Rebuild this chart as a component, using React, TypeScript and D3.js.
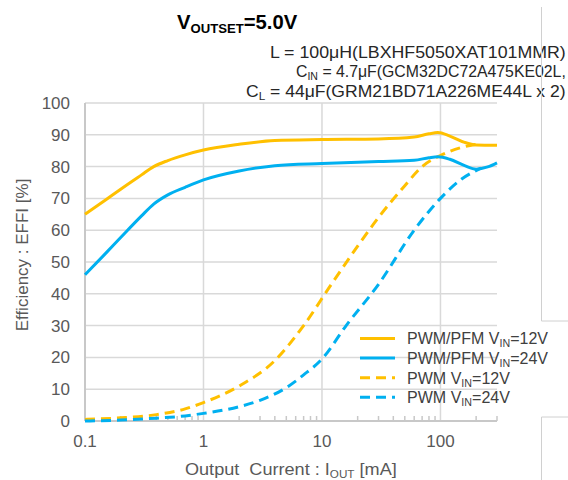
import React, { useEffect, useRef } from 'react';
import * as d3 from 'd3';

// PWM/PFM, VIN = 12V
const pfm12Current = [0.1, 0.15, 0.2, 0.3, 0.38, 0.5, 0.7, 1, 2, 4, 10, 30, 60, 80, 95, 120, 160, 200, 300];
const pfm12Eff = [65, 69.6, 72.9, 77.4, 80, 81.9, 83.7, 85.2, 87, 88.2, 88.5, 88.7, 89.3, 90.3, 90.7, 89.6, 87.6, 86.8, 86.7];

// PWM/PFM, VIN = 24V
const pfm24Current = [0.1, 0.15, 0.2, 0.3, 0.38, 0.5, 0.7, 1, 2, 4, 10, 30, 60, 80, 95, 120, 160, 200, 250, 300];
const pfm24Eff = [46, 52.8, 57.7, 64.5, 68.2, 71.1, 73.5, 75.8, 78.6, 80.3, 81, 81.6, 82, 82.8, 83.1, 82.3, 80.3, 79.2, 79.9, 81.2];

// PWM, VIN = 12V
const pwm12Current = [0.1, 0.2, 0.4, 0.7, 1, 2, 4, 7, 12, 20, 30, 50, 70, 100, 150, 200];
const pwm12Eff = [0.5, 1, 2, 3.8, 5.8, 11, 19, 30, 43, 55, 64, 74, 80, 83.5, 86, 87];

// PWM, VIN = 24V
const pwm24Current = [0.1, 0.2, 0.4, 0.7, 1, 2, 3, 5, 7, 10, 16, 30, 60, 100, 150, 220];
const pwm24Eff = [0, 0.3, 0.9, 1.6, 2.4, 4.5, 6.5, 10.5, 14.5, 19.5, 30, 43, 60, 70, 76, 79.5];

const xTicks = [0.1, 1, 10, 100];
const xTickLabels = ['0.1', '1', '10', '100'];
const yTicks = [0, 10, 20, 30, 40, 50, 60, 70, 80, 90, 100];

const ORANGE = '#FFC000';
const BLUE = '#00B0F0';

// stretch a text sideways so it spans `width` px starting at x0
function fitWidth(sel, x0, width) {
    const w = sel.node().getBBox().width;
    if (!w) return;
    const s = width / w;
    sel.attr('transform', `translate(${x0},0) scale(${s},1) translate(${-x0},0)`);
}

const App = () => {
    const ref = useRef(null);

    useEffect(() => {
        const svg = d3.select(ref.current);
        svg.selectAll('*').remove();

        const left = 85, right = 497, top = 103, bottom = 421;

        const x = d3.scaleLog().domain([0.1, 300]).range([left, right]);
        const y = d3.scaleLinear().domain([0, 100]).range([bottom, top]);

        const font = 'Liberation Sans, Arial, sans-serif';

        // grid
        svg.append('g').selectAll('line')
            .data(yTicks.filter(d => d > 0))
            .enter().append('line')
            .attr('x1', left).attr('x2', right)
            .attr('y1', d => y(d)).attr('y2', d => y(d))
            .attr('stroke', '#d9d9d9').attr('stroke-width', 1.5);

        svg.append('g').selectAll('line')
            .data(xTicks.filter(d => d > 0.1))
            .enter().append('line')
            .attr('x1', d => x(d)).attr('x2', d => x(d))
            .attr('y1', top).attr('y2', bottom)
            .attr('stroke', '#d9d9d9').attr('stroke-width', 1.5);

        // minor ticks on bottom axis
        const minor = [];
        [0.1, 1, 10, 100].forEach(dec => {
            for (let k = 2; k <= 9; k++) {
                if (dec * k <= 300) minor.push(dec * k);
            }
        });
        svg.append('g').selectAll('line')
            .data(minor)
            .enter().append('line')
            .attr('x1', d => x(d)).attr('x2', d => x(d))
            .attr('y1', bottom - 5).attr('y2', bottom)
            .attr('stroke', '#c8c8c8').attr('stroke-width', 1.5);

        // axis lines
        svg.append('line')
            .attr('x1', left).attr('x2', left).attr('y1', top).attr('y2', bottom)
            .attr('stroke', '#c8c8c8').attr('stroke-width', 2);
        svg.append('line')
            .attr('x1', left).attr('x2', right).attr('y1', bottom).attr('y2', bottom)
            .attr('stroke', '#c8c8c8').attr('stroke-width', 2);

        // tick labels
        svg.append('g').selectAll('text')
            .data(yTicks)
            .enter().append('text')
            .attr('x', 70).attr('y', d => y(d) + 6)
            .attr('text-anchor', 'end')
            .attr('font-family', font).attr('font-size', 17)
            .attr('fill', '#595959')
            .text(d => d);

        svg.append('g').selectAll('text')
            .data(xTicks)
            .enter().append('text')
            .attr('x', d => x(d)).attr('y', 447)
            .attr('text-anchor', 'middle')
            .attr('font-family', font).attr('font-size', 17)
            .attr('fill', '#595959')
            .text((d, i) => xTickLabels[i]);

        // curves
        const line = d3.line()
            .x(d => x(d[0]))
            .y(d => y(d[1]))
            .curve(d3.curveMonotoneX);

        const series = [
            { xs: pwm12Current, ys: pwm12Eff, color: ORANGE, dash: '10,6' },
            { xs: pwm24Current, ys: pwm24Eff, color: BLUE, dash: '10,6' },
            { xs: pfm24Current, ys: pfm24Eff, color: BLUE, dash: null },
            { xs: pfm12Current, ys: pfm12Eff, color: ORANGE, dash: null },
        ];
        series.forEach(s => {
            svg.append('path')
                .datum(s.xs.map((v, i) => [v, s.ys[i]]))
                .attr('fill', 'none')
                .attr('stroke', s.color)
                .attr('stroke-width', 3)
                .attr('stroke-dasharray', s.dash)
                .attr('d', line);
        });

        // title (the reference text is a bit stretched sideways)
        const title = svg.append('text')
            .attr('x', 177).attr('y', 29)
            .attr('font-family', font).attr('font-weight', 'bold')
            .attr('font-size', 20).attr('fill', '#000');
        title.append('tspan').text('V');
        title.append('tspan').attr('font-size', 13).attr('dy', 4).text('OUTSET');
        title.append('tspan').attr('dy', -4).text('=5.0V');
        fitWidth(title, 177, 121);

        const sub = [
            { x: 270, w: 296, parts: [['L = 100μH(LBXHF5050XAT101MMR)']] },
            { x: 296, w: 270, parts: [['C'], ['IN', true], [' = 4.7μF(GCM32DC72A475KE02L,']] },
            { x: 246, w: 320, parts: [['C'], ['L', true], [' = 44μF(GRM21BD71A226ME44L x 2)']] },
        ];
        sub.forEach((row, i) => {
            const t = svg.append('text')
                .attr('x', row.x).attr('y', 58 + i * 19.5)
                .attr('font-family', font).attr('font-size', 16.5)
                .attr('fill', '#262626');
            let shifted = false;
            row.parts.forEach(p => {
                const ts = t.append('tspan').text(p[0]);
                if (p[1]) { ts.attr('font-size', 11).attr('dy', 3); shifted = true; }
                else if (shifted) { ts.attr('dy', -3); shifted = false; }
            });
            fitWidth(t, row.x, row.w);
        });

        // axis titles
        svg.append('text')
            .attr('transform', 'translate(28,255) rotate(-90)')
            .attr('text-anchor', 'middle')
            .attr('font-family', font).attr('font-size', 17)
            .attr('fill', '#595959')
            .text('Efficiency : EFFI [%]');

        const xl = svg.append('text')
            .attr('x', 185).attr('y', 475)
            .attr('font-family', font).attr('font-size', 17)
            .attr('fill', '#595959')
            .style('white-space', 'pre');
        xl.append('tspan').text('Output  Current : I');
        xl.append('tspan').attr('font-size', 11).attr('dy', 3).text('OUT');
        xl.append('tspan').attr('dy', -3).text(' [mA]');
        fitWidth(xl, 185, 212);

        // legend
        const legendItems = [
            { pre: 'PWM/PFM V', post: '=12V', color: ORANGE, dash: null, w: 141 },
            { pre: 'PWM/PFM V', post: '=24V', color: BLUE, dash: null, w: 141 },
            { pre: 'PWM V', post: '=12V', color: ORANGE, dash: '10,6', w: 103 },
            { pre: 'PWM V', post: '=24V', color: BLUE, dash: '10,6', w: 103 },
        ];
        legendItems.forEach((d, i) => {
            const ly = 338.5 + i * 19.6;
            svg.append('line')
                .attr('x1', 360).attr('x2', 395)
                .attr('y1', ly).attr('y2', ly)
                .attr('stroke', d.color).attr('stroke-width', 3)
                .attr('stroke-dasharray', d.dash);
            const t = svg.append('text')
                .attr('x', 407).attr('y', ly + 6)
                .attr('font-family', font).attr('font-size', 16.5)
                .attr('fill', '#404040');
            t.append('tspan').text(d.pre);
            t.append('tspan').attr('font-size', 11).attr('dy', 3).text('IN');
            t.append('tspan').attr('dy', -3).text(d.post);
            fitWidth(t, 407, d.w);
        });

        // page frame fragments at the right edge
        const frame = [
            [541.5, 7, 541.5, 321], [541.5, 321, 568, 321],
            [541.5, 417, 568, 417], [541.5, 417, 541.5, 480],
        ];
        svg.append('g').selectAll('line')
            .data(frame)
            .enter().append('line')
            .attr('x1', d => d[0]).attr('y1', d => d[1])
            .attr('x2', d => d[2]).attr('y2', d => d[3])
            .attr('stroke', '#d0d0d0').attr('stroke-width', 1);
    }, []);

    return (
        <svg ref={ref} width={568} height={480}
            style={{ position: 'absolute', left: 0, top: 0, background: '#fff' }} />
    );
};

export default App;
